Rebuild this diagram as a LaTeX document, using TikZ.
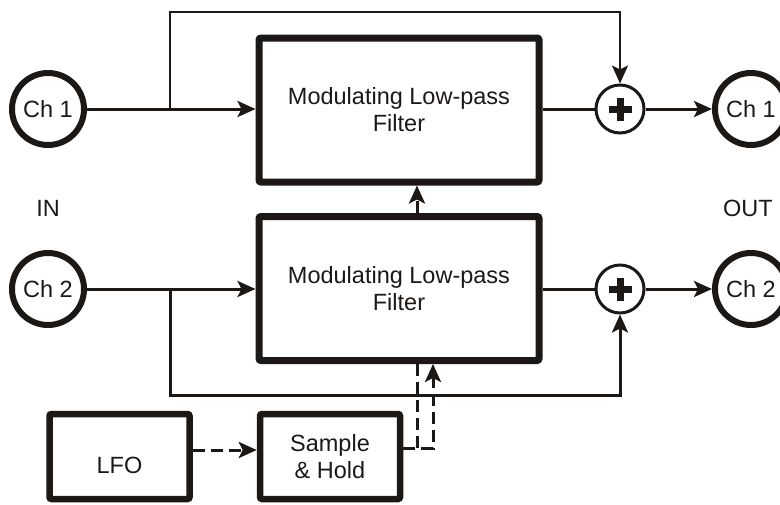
\documentclass[tikz,border=0pt]{standalone}
\usepackage{fontspec}
\setmainfont{Liberation Sans}
\usetikzlibrary{arrows.meta,calc}
\definecolor{ink}{RGB}{28,24,22}
\begin{document}
\begin{tikzpicture}[x=1pt,y=-1pt, color=ink,
  every node/.style={font=\fontsize{23.5}{27}\selectfont, align=center, inner sep=0pt, text=ink},
  port/.style={circle, draw=ink, line width=6pt, minimum size=72pt},
  filt/.style={rectangle, draw=ink, line width=7pt, minimum width=280pt, minimum height=144pt, rounded corners=2pt},
  smallbox/.style={rectangle, draw=ink, line width=6.5pt, minimum width=140pt, minimum height=85pt, rounded corners=2pt},
  adder/.style={circle, draw=ink, line width=3pt, minimum size=48pt,
    path picture={\draw[ink, line width=7pt] (path picture bounding box.center) ++(-11.5pt,0) -- ++(23pt,0);
                  \draw[ink, line width=7pt] (path picture bounding box.center) ++(0,-11.5pt) -- ++(0,23pt);}},
  conn/.style={draw=ink, line width=3pt},
  thinconn/.style={draw=ink, line width=2.5pt},
  dconn/.style={draw=ink, line width=3pt, dash pattern=on 12pt off 6pt},
  >={Stealth[length=18pt,width=16pt,inset=4pt]}
]
\useasboundingbox (0,0) rectangle (780,504);

% ports
\node[port] (in1) at (48,109) {Ch 1};
\node[port] (in2) at (48,289) {Ch 2};
\node[port] (out1) at (751,109) {Ch 1};
\node[port] (out2) at (751,289) {Ch 2};

% labels
\node (inl) at (48,208) {IN};
\node (outl) at (748,208) {OUT};

% filters
\node[filt] (f1) at (399,110) {Modulating Low-pass\\Filter};
\node[filt] (f2) at (399,288.5) {Modulating Low-pass\\Filter};

% adders
\node[adder] (a1) at (620,109) {};
\node[adder] (a2) at (620,289) {};

% LFO and S&H
\node[smallbox, label={[yshift=-9pt, text=ink]center:LFO}] (lfo) at (119.5,456.5) {};
\node[smallbox] (sh) at (330,456.5) {Sample\\\& Hold};

% channel 1
\coordinate (b1) at (170,109);
\coordinate (t1) at (170,12);
\draw[conn,->] (in1.east) -- (f1.west |- in1.east);
\draw[thinconn,->] (b1) -- (t1) -| (a1.north);
\draw[conn] (f1.east |- a1.west) -- (a1.west);
\draw[conn,->] (a1.east) -- (out1.west);

% channel 2
\coordinate (b2) at (170,289);
\coordinate (t2) at (170,395);
\draw[conn,->] (in2.east) -- (f2.west |- in2.east);
\draw[conn,->] (b2) -- (t2) -| (a2.south);
\draw[conn] (f2.east |- a2.west) -- (a2.west);
\draw[conn,->] (a2.east) -- (out2.west);

% modulation
\path (lfo.east) ++(0,-6.5) coordinate (lo);
\draw[dconn,->] (lo) -- (lo -| sh.west);
\coordinate (j1) at (417,448);
\coordinate (j2) at (433,448);
\draw[dconn,->] (j1 -| sh.east) -- (j2) -- (j2 |- f2.south);
\draw[dconn] (j1) -- (j1 |- f2.south);
\draw[dconn,->] (j1 |- f2.north) -- (j1 |- f1.south);
\end{tikzpicture}
\end{document}
